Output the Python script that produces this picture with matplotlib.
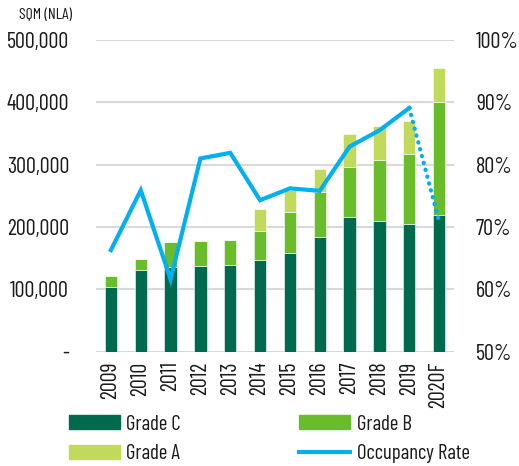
import matplotlib
matplotlib.use("Agg")
import matplotlib.pyplot as plt
from matplotlib.lines import Line2D
from matplotlib.patches import Patch
import numpy as np

plt.rcParams['font.family'] = ['Barlow Condensed', 'DejaVu Sans']

years = ["2009", "2010", "2011", "2012", "2013", "2014", "2015", "2016",
         "2017", "2018", "2019", "2020F"]
grade_c = [103000, 131500, 136000, 138000, 139500, 147000, 159000, 184500,
           216500, 210000, 205500, 220000]
grade_b = [18500, 17500, 40000, 39000, 39300, 46700, 65700, 72000,
           80500, 97700, 111300, 181000]
grade_a = [0, 0, 0, 0, 0, 35300, 34900, 36500,
           52000, 54100, 53000, 54000]
occupancy = [66.3, 75.9, 61.6, 81.0, 81.9, 74.3, 76.2, 75.8, 82.9, 85.5, 89.1, 70.9]

c_dark = "#006A4E"
c_mid = "#6ABD2A"
c_light = "#C2DA5B"
c_blue = "#00B0F0"
c_grid = "#D9D9D9"
c_text = "#1A1A1A"
fs = 16

fig = plt.figure(figsize=(5.19, 4.66), dpi=100)
ax = fig.add_axes([96/519, 1-351.7/466, (454-96)/519, (351.7-40)/466])
x = np.arange(len(years))
w = 0.41
ax.bar(x, grade_c, w, color=c_dark, edgecolor="white", linewidth=0.4, zorder=2)
ax.bar(x, grade_b, w, bottom=grade_c, color=c_mid, edgecolor="white", linewidth=0.4, zorder=2)
bot = np.array(grade_c) + np.array(grade_b)
ax.bar(x, grade_a, w, bottom=bot, color=c_light, edgecolor="white", linewidth=0.4, zorder=2)

ax.set_xlim(-0.5, len(years) - 0.5)
ax.set_ylim(0, 500000)
ax.set_yticks([0, 100000, 200000, 300000, 400000, 500000])
ax.set_yticklabels(["-", "100,000", "200,000", "300,000", "400,000", "500,000"])
ax.yaxis.grid(True, color=c_grid, linewidth=1.5, zorder=0)
ax.set_axisbelow(True)
for s in ax.spines.values():
    s.set_visible(False)
ax.tick_params(axis="both", length=0, labelsize=fs, colors=c_text)
ax.tick_params(axis="y", pad=19.4)
ax.tick_params(axis="x", pad=7)
ax.set_xticks(x)
ax.set_xticklabels(years, rotation=90)

ax2 = ax.twinx()
ax2.set_ylim(50, 100)
ax2.set_yticks([50, 60, 70, 80, 90, 100])
ax2.set_yticklabels([f"{v}%" for v in [50, 60, 70, 80, 90, 100]])
for s in ax2.spines.values():
    s.set_visible(False)
ax2.tick_params(axis="y", length=0, labelsize=fs, colors=c_text, pad=15.8)
ax2.plot(x[:-1], occupancy[:-1], color=c_blue, linewidth=3, solid_joinstyle="miter", zorder=3)
ax2.plot(x[-2:], occupancy[-2:], color=c_blue, linewidth=3, linestyle=(0, (0.1, 1.6)),
         dash_capstyle="round", zorder=3)

fig.text(19/519, 1-15/466, "SQM (NLA)", fontsize=11.5, color=c_text, va="center", ha="left")

handles = [Patch(color=c_dark), Patch(color=c_light), Patch(color=c_mid),
           Line2D([0], [0], color=c_blue, linewidth=3)]
labels = ["Grade C", "Grade A", "Grade B", "Occupancy Rate"]
fig.legend(handles, labels, ncol=2, loc="upper left", bbox_to_anchor=(54/519, 1-400/466),
           frameon=False, fontsize=15, handlelength=2.45, handleheight=0.65,
           handletextpad=0.3, columnspacing=5.7, labelspacing=0.5, labelcolor=c_text,
           borderpad=0.2)

fig.savefig("out.png", dpi=100)
